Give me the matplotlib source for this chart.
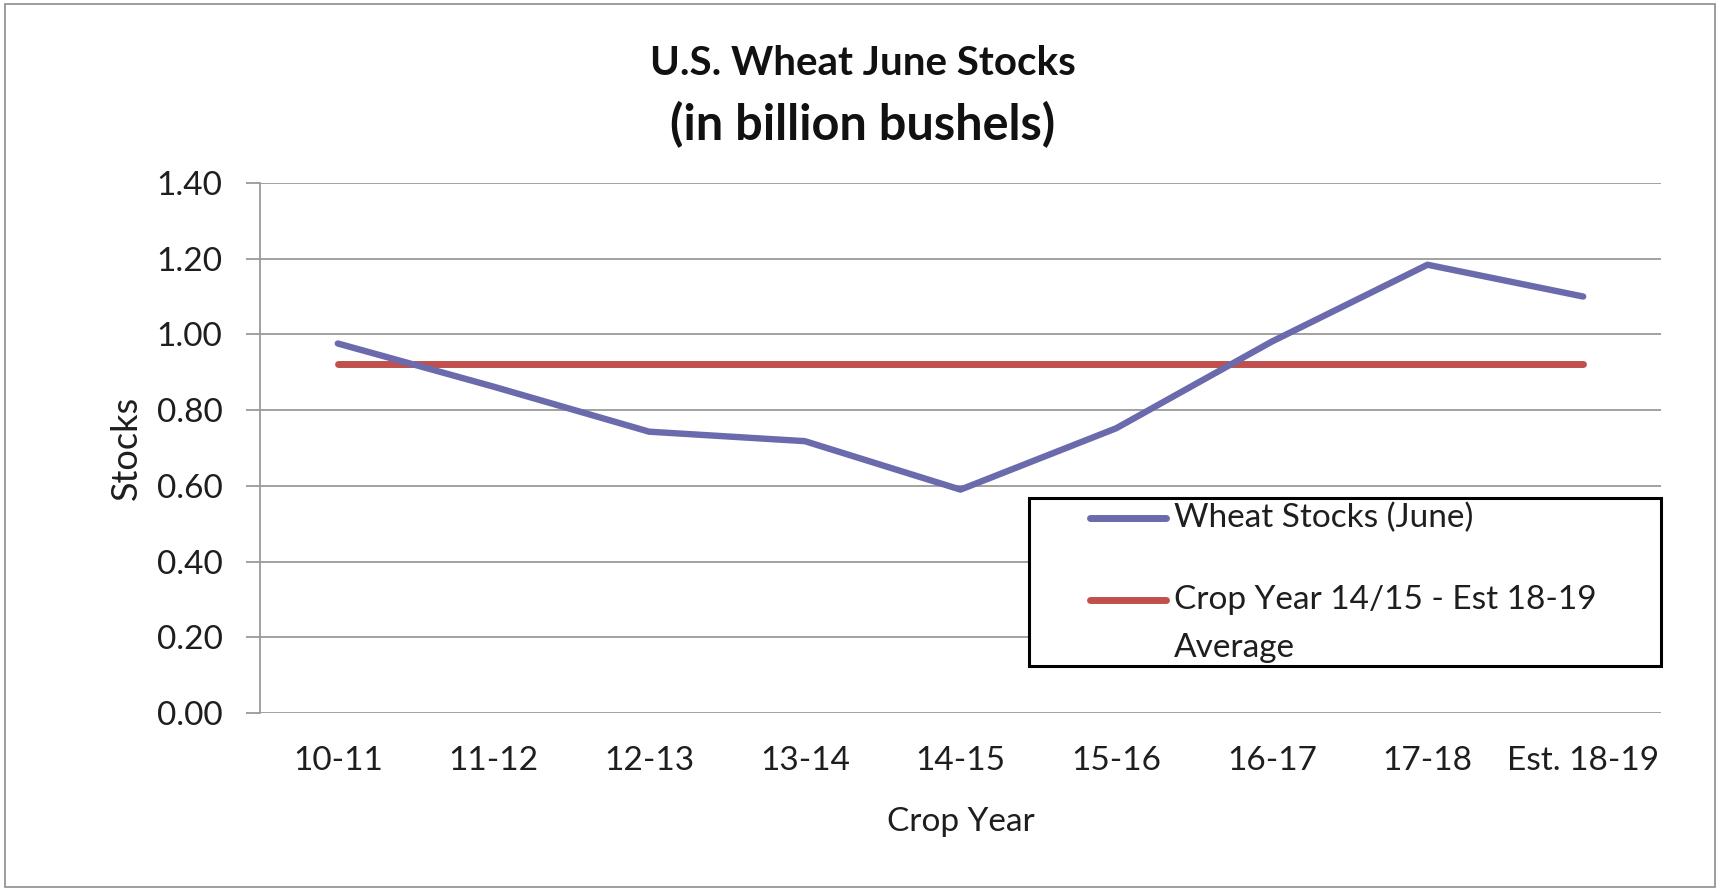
"""U.S. wheat June stocks, crop years 10-11 through Est. 18-19."""

import matplotlib

matplotlib.use("Agg")
import matplotlib.pyplot as plt
from matplotlib.lines import Line2D
from matplotlib.patches import Rectangle

crop_years = ["10-11", "11-12", "12-13", "13-14", "14-15",
              "15-16", "16-17", "17-18", "Est. 18-19"]
june_stocks = [0.976, 0.862, 0.743, 0.718, 0.590, 0.752, 0.981, 1.184, 1.100]
average_stocks = [0.921] * len(crop_years)
y_ticks = [0.0, 0.2, 0.4, 0.6, 0.8, 1.0, 1.2, 1.4]

STOCK_COLOR = "#6A6AAC"
AVG_COLOR = "#C0504D"
GRID_COLOR = "#9A9A9A"
TEXT_COLOR = "#1E1E1E"

plt.rcParams["font.family"] = ["Lato", "DejaVu Sans"]

fig = plt.figure(figsize=(17.17, 8.89), dpi=100)
ax = fig.add_axes([0.1514, 0.1980, 0.8160, 0.5962])

x = list(range(len(crop_years)))
ax.plot(x, average_stocks, color=AVG_COLOR, linewidth=5.0,
        solid_capstyle="round", zorder=3)
ax.plot(x, june_stocks, color=STOCK_COLOR, linewidth=4.6,
        solid_capstyle="round", solid_joinstyle="round", zorder=4)

ax.set_xlim(-0.5, len(crop_years) - 0.5)
ax.set_ylim(0, 1.4)
ax.set_yticks(y_ticks)
ax.set_yticklabels([f"{v:.2f}" for v in y_ticks])
ax.set_xticks(x)
ax.set_xticklabels(crop_years)
ax.grid(axis="y", color=GRID_COLOR, linewidth=1.3)
ax.set_axisbelow(True)

for side in ("top", "right", "bottom"):
    ax.spines[side].set_visible(False)
ax.spines["left"].set_color(GRID_COLOR)
ax.spines["left"].set_linewidth(1.3)

ax.tick_params(axis="y", length=10, width=1.3, color=GRID_COLOR,
               labelsize=24, pad=17, labelcolor=TEXT_COLOR)
ax.tick_params(axis="x", length=0, labelsize=24, pad=24, labelcolor=TEXT_COLOR)

ax.set_xlabel("Crop Year", fontsize=24, labelpad=22, color=TEXT_COLOR)
ax.set_ylabel("Stocks", fontsize=26, labelpad=10, color=TEXT_COLOR)

fig.text(0.5026, 0.929, "U.S. Wheat June Stocks", ha="center", va="center",
         fontsize=29, fontweight="bold", color="#111111")
fig.text(0.5026, 0.860, "(in billion bushels)", ha="center", va="center",
         fontsize=35, fontweight="bold", color="#111111")

# legend drawn by hand so the wrapped label lines up like the original
fig.patches.append(Rectangle((0.5993, 0.2508), 0.3681, 0.1890,
                             transform=fig.transFigure, facecolor="white",
                             edgecolor="black", linewidth=2.2, zorder=5))
for y_pos, color in ((0.4173, STOCK_COLOR), (0.3251, AVG_COLOR)):
    fig.lines.append(Line2D([0.6348, 0.6791], [y_pos, y_pos],
                            transform=fig.transFigure, color=color,
                            linewidth=5.0, solid_capstyle="round", zorder=6))
fig.text(0.6838, 0.4173, "Wheat Stocks (June)", va="center",
         fontsize=24, color=TEXT_COLOR, zorder=6)
fig.text(0.6838, 0.3251, "Crop Year 14/15 - Est 18-19", va="center",
         fontsize=24, color=TEXT_COLOR, zorder=6)
fig.text(0.6838, 0.2711, "Average", va="center",
         fontsize=24, color=TEXT_COLOR, zorder=6)

# thin frame around the whole chart area
fig.patches.append(Rectangle((0.003, 0.002), 0.996, 0.993,
                             transform=fig.transFigure, facecolor="none",
                             edgecolor="#8C8C8C", linewidth=1.2))

fig.savefig("out.png", dpi=100)
